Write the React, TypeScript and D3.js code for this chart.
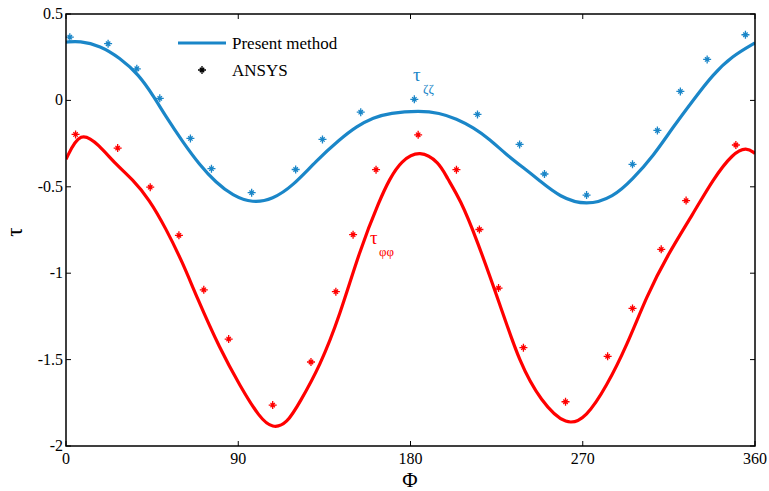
import React from "react";
import * as d3 from "d3";

const blueLineX = [0, 7, 18, 28, 38, 46, 52, 61, 69.6, 78.4, 87, 97.5, 108, 118.4, 130.6, 143, 152, 160.6, 169, 185, 195, 204, 213, 221.5, 230, 239, 247, 258, 272, 286, 296, 307, 317, 328, 338, 348, 360];
const blueLineY = [0.337, 0.345, 0.316, 0.247, 0.15, 0.02, -0.09, -0.24, -0.37, -0.476, -0.55, -0.595, -0.572, -0.496, -0.351, -0.226, -0.149, -0.1, -0.072, -0.06, -0.072, -0.106, -0.158, -0.226, -0.313, -0.39, -0.46, -0.56, -0.61, -0.56, -0.457, -0.32, -0.157, 0.006, 0.15, 0.256, 0.333];

const redLineX = [0, 7.5, 17.4, 26, 34.8, 43.5, 52, 61, 68, 80.5, 91, 101, 108, 115.5, 122, 132.7, 143, 153.6, 164, 169, 175, 185, 195, 199, 206, 214.5, 227, 237, 248, 261.6, 272, 282.5, 293, 303.5, 314, 328, 338, 348.5, 355.6, 360];
const redLineY = [-0.341, -0.17, -0.26, -0.37, -0.457, -0.573, -0.737, -0.94, -1.13, -1.441, -1.653, -1.835, -1.9, -1.87, -1.75, -1.537, -1.248, -0.862, -0.573, -0.457, -0.35, -0.285, -0.36, -0.447, -0.573, -0.8, -1.19, -1.518, -1.74, -1.89, -1.835, -1.653, -1.42, -1.13, -0.9, -0.65, -0.457, -0.305, -0.27, -0.307];

const blueMarkX = [2, 22, 37, 49, 65, 76, 97, 120, 134, 154, 182, 215, 237, 250, 272, 296, 309, 321, 335, 355];
const blueMarkY = [0.366, 0.328, 0.183, 0.012, -0.22, -0.395, -0.534, -0.4, -0.226, -0.068, 0.006, -0.081, -0.255, -0.426, -0.548, -0.37, -0.174, 0.052, 0.237, 0.38];

const redMarkX = [5, 27, 44, 59, 72, 85, 108, 128, 141, 150, 162, 184, 204, 216, 226, 239, 261, 283, 296, 311, 324, 350];
const redMarkY = [-0.197, -0.276, -0.502, -0.781, -1.096, -1.381, -1.763, -1.514, -1.107, -0.777, -0.401, -0.199, -0.401, -0.747, -1.086, -1.431, -1.744, -1.481, -1.204, -0.862, -0.58, -0.258];

const xTicks = [0, 90, 180, 270, 360];
const yTicks = [0.5, 0, -0.5, -1, -1.5, -2];

const BLUE = "#1a86c8";
const RED = "#ff0000";
const FONT = "'Liberation Serif', 'Times New Roman', serif";

const L = 66, R = 755, T = 14, B = 446;

function Star({ x, y, color }: { x: number; y: number; color: string }) {
  const a = 4, b = 2.2;
  return (
    <path
      d={`M${x - a},${y}H${x + a}M${x},${y - a}V${y + a}M${x - b},${y - b}L${x + b},${y + b}M${x - b},${y + b}L${x + b},${y - b}`}
      stroke={color}
      strokeWidth={1.3}
      fill="none"
    />
  );
}

export default function App() {
  const x = d3.scaleLinear().domain([0, 360]).range([L, R]);
  const y = d3.scaleLinear().domain([-2, 0.5]).range([B, T]);
  const line = d3
    .line<[number, number]>()
    .x((d) => x(d[0]))
    .y((d) => y(d[1]))
    .curve(d3.curveBasis);
  const blue = blueLineX.map((v, i) => [v, blueLineY[i]] as [number, number]);
  const red = redLineX.map((v, i) => [v, redLineY[i]] as [number, number]);

  return (
    <svg width={769} height={491} style={{ position: "absolute", left: 0, top: 0, background: "#fff" }} fontFamily={FONT}>
      <defs>
        <clipPath id="plot">
          <rect x={L} y={T} width={R - L} height={B - T} />
        </clipPath>
      </defs>
      <g clipPath="url(#plot)">
        <path d={line(blue) || ""} stroke={BLUE} strokeWidth={3.2} fill="none" />
        <path d={line(red) || ""} stroke={RED} strokeWidth={3.2} fill="none" />
      </g>
      {blueMarkX.map((v, i) => (
        <Star key={"b" + i} x={x(v)} y={y(blueMarkY[i])} color={BLUE} />
      ))}
      {redMarkX.map((v, i) => (
        <Star key={"r" + i} x={x(v)} y={y(redMarkY[i])} color={RED} />
      ))}
      {xTicks.map((t) => (
        <g key={"xt" + t}>
          <line x1={x(t)} x2={x(t)} y1={B} y2={B - 5} stroke="#000" strokeWidth={1} />
          <line x1={x(t)} x2={x(t)} y1={T} y2={T + 5} stroke="#000" strokeWidth={1} />
          <text x={x(t)} y={464} fontSize={16} textAnchor="middle">{t}</text>
        </g>
      ))}
      {yTicks.map((t) => (
        <g key={"yt" + t}>
          <line x1={L} x2={L + 5} y1={y(t)} y2={y(t)} stroke="#000" strokeWidth={1} />
          <line x1={R} x2={R - 5} y1={y(t)} y2={y(t)} stroke="#000" strokeWidth={1} />
          <text x={63} y={y(t) + 5} fontSize={16} textAnchor="end">{String(t)}</text>
        </g>
      ))}
      <rect x={L} y={T} width={R - L} height={B - T} fill="none" stroke="#000" strokeWidth={1.5} />
      <text x={410} y={487} fontSize={21} textAnchor="middle">Φ</text>
      <text transform="translate(22,232) rotate(-90)" fontSize={23} textAnchor="middle">τ</text>
      <line x1={178} x2={226} y1={43} y2={43} stroke={BLUE} strokeWidth={3.2} />
      <text x={232} y={49} fontSize={17}>Present method</text>
      <Star x={202} y={70} color="#000" />
      <text x={232} y={76} fontSize={17}>ANSYS</text>
      <text x={413} y={81} fontSize={19} fill={BLUE}>τ</text>
      <text x={423} y={93} fontSize={13} fill={BLUE}>ζζ</text>
      <text x={370} y={244} fontSize={19} fill={RED}>τ</text>
      <text x={379} y={256} fontSize={13} fill={RED}>φφ</text>
    </svg>
  );
}
